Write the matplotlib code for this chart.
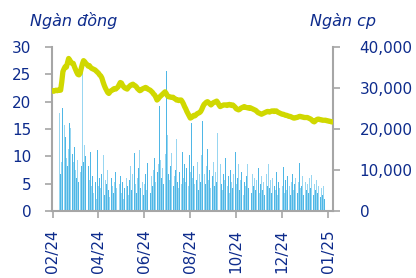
import matplotlib
matplotlib.use("Agg")
import matplotlib.pyplot as plt
import numpy as np

price = [
    22.0, 21.9, 22.0, 22.1, 22.0, 22.1, 22.2, 22.1, 23.6, 25.5,
    26.0, 26.4, 26.3, 27.1, 27.9, 27.6, 27.2, 27.0, 27.0, 26.4,
    25.9, 25.4, 25.0, 24.9, 25.2, 26.1, 26.9, 27.5, 27.3, 27.0,
    26.8, 26.5, 26.6, 26.3, 26.1, 26.0, 25.9, 25.8, 25.6, 25.4,
    25.2, 24.9, 24.7, 24.3, 23.6, 23.0, 22.5, 22.1, 21.7, 21.5,
    21.8, 22.0, 22.1, 22.3, 22.4, 22.3, 22.5, 22.7, 23.1, 23.5,
    23.4, 23.0, 22.7, 22.5, 22.4, 22.3, 22.6, 22.8, 23.0, 23.1,
    23.2, 23.0, 22.9, 22.7, 22.4, 22.2, 22.0, 22.1, 22.3, 22.4,
    22.5, 22.6, 22.5, 22.3, 22.2, 22.1, 21.9, 21.7, 21.4, 21.2,
    20.8, 20.3, 20.5, 20.8, 21.0, 21.2, 21.4, 21.6, 21.8, 21.5,
    21.1, 20.9, 20.9, 20.8, 20.8, 20.8, 20.6, 20.5, 20.3, 20.3,
    20.2, 20.3, 20.3, 20.0, 19.6, 19.1, 18.7, 18.2, 17.8, 17.4,
    17.0, 17.1, 17.3, 17.5, 17.4, 17.6, 17.8, 17.9, 18.0, 18.2,
    18.6, 19.1, 19.5, 19.7, 19.9, 20.0, 19.8, 19.6, 19.4, 19.6,
    19.8, 19.9, 20.0, 20.1, 19.8, 19.4, 19.1, 19.2, 19.3, 19.4,
    19.4, 19.4, 19.3, 19.4, 19.5, 19.4, 19.3, 19.4, 19.2, 19.0,
    18.7, 18.6, 18.5, 18.6, 18.8, 18.9, 19.0, 19.1, 19.0, 18.9,
    18.9, 18.8, 18.9, 18.8, 18.7, 18.6, 18.5, 18.4, 18.2, 18.0,
    17.9, 17.8, 17.7, 17.8, 17.9, 18.0, 18.1, 18.2, 18.2, 18.1,
    18.2, 18.3, 18.3, 18.2, 18.3, 18.3, 18.1, 18.0, 17.9, 17.8,
    17.7, 17.7, 17.6, 17.5, 17.5, 17.4, 17.3, 17.3, 17.2, 17.1,
    17.0, 17.0, 17.1, 17.1, 17.2, 17.3, 17.3, 17.2, 17.2, 17.1,
    17.1, 17.1, 17.1, 17.0, 16.9, 16.8, 16.6, 16.4, 16.3, 16.5,
    16.7, 16.8, 16.8, 16.7, 16.7, 16.6, 16.6, 16.6, 16.6, 16.5,
    16.5, 16.4, 16.4, 16.3, 16.3,
]

volume = [
    7100, 0, 0, 0, 0, 0, 24000, 9000, 12000, 25000,
    21000, 18100, 13000, 11000, 15000, 21500, 20200, 14000, 12000, 15700,
    10000, 8000, 12500, 7000, 9500, 11000, 34000, 12000, 16100, 13500,
    9000, 11000, 7500, 14500, 6000, 8500, 4500, 7000, 3000, 14900,
    6000, 8000, 5500, 9000, 13700, 4000, 7500, 6500, 10000, 5000,
    3500, 8000, 6000, 4500, 7000, 9500, 5500, 13100, 6500, 8500,
    4500, 7000, 3000, 5500, 8000, 6000, 4000, 7500, 11000, 5000,
    9000, 14200, 6500, 4500, 8000, 10500, 14900, 5500, 7000, 4000,
    6500, 9000, 5000, 11800, 7500, 4500, 8500, 6000, 10000, 12900,
    7000, 9500, 11500, 25600, 12500, 8000, 10500, 6500, 14000, 34100,
    18500, 9000, 7500, 11000, 14100, 6000, 8500, 10000, 17600, 7000,
    5500, 9500, 6500, 14500, 8000, 11500, 7000, 10500, 6000, 13700,
    9500, 21500, 8000, 11000, 6500, 7500, 12000, 5000, 9000, 7000,
    13700, 22000, 9000, 6500, 11000, 15100, 7500, 10000, 5500, 8500,
    12000, 6000, 9500, 7000, 19100, 8000, 11500, 6500, 5000, 9000,
    7500, 12900, 6000, 8500, 4500, 10000, 7000, 5500, 9000, 14300,
    6500, 8000, 11500, 5000, 7500, 9500, 4000, 7000, 6000, 8500,
    11500, 5500, 7000, 4500, 9000, 6000, 8000, 5000, 7500, 10600,
    4500, 6500, 8500, 5000, 7000, 4000, 9000, 6000, 11400, 5500,
    7500, 4500, 8000, 6000, 5000, 9500, 4000, 7000, 5500, 8000,
    6000, 10700, 4500, 7500, 5000, 8500, 6000, 4000, 7000, 9000,
    5000, 6500, 8000, 4500, 7000, 11600, 5500, 6000, 8500, 4000,
    7000, 5000, 6500, 4500, 8000, 5500, 8800, 4000, 6500, 5000,
    7500, 4500, 6000, 3500, 5500, 4000, 6200, 3000,
]

tick_labels = ["02/24", "04/24", "06/24", "08/24", "10/24", "12/24", "01/25"]
tick_step = 40

TXT = "#0d2b8c"
GRID = "#a6a6a6"
LINE = "#d0d800"
BAR_COLORS = ["#98d6f1", "#4fb7e6"]

fig = plt.figure(figsize=(4.16, 2.78), dpi=100)
ax = fig.add_axes([0.125, 0.241, 0.676, 0.590])
ax2 = ax.twinx()

xv = np.arange(len(volume))
cols = [BAR_COLORS[i % 2] for i in range(len(volume))]
ax2.bar(xv, volume, width=0.85, color=cols, linewidth=0, zorder=1)

ax.set_zorder(ax2.get_zorder() + 1)
ax.patch.set_visible(False)
ax.plot(np.arange(len(price)), price, color=LINE, lw=3.8, solid_capstyle="round",
        solid_joinstyle="round", zorder=3)

n = len(price)
ax.set_xlim(-0.5, n - 0.5)
ax.set_ylim(0, 30)
ax2.set_ylim(0, 40000)
ax.set_yticks([0, 5, 10, 15, 20, 25, 30])
ax2.set_yticks([0, 10000, 20000, 30000, 40000])
ax2.set_yticklabels([f"{v:,}" for v in [0, 10000, 20000, 30000, 40000]])
ax.set_xticks([i * tick_step for i in range(len(tick_labels))])
ax.set_xticklabels(tick_labels, rotation=90)

for a in (ax, ax2):
    for s in a.spines.values():
        s.set_visible(False)
    a.tick_params(colors=GRID, labelcolor=TXT, labelsize=11, width=1.2, length=5)
ax.spines["left"].set_visible(True)
ax.spines["bottom"].set_visible(True)
ax2.spines["right"].set_visible(True)
for s in (ax.spines["left"], ax.spines["bottom"], ax2.spines["right"]):
    s.set_color(GRID)
    s.set_linewidth(1.5)
ax.tick_params(axis="y", pad=10)
ax2.tick_params(axis="y", pad=14)
ax.tick_params(axis="x", pad=8)

fig.text(0.072, 0.925, "Ngàn đồng", color=TXT, fontsize=11.5, style="italic",
         ha="left", va="center")
fig.text(0.745, 0.925, "Ngàn cp", color=TXT, fontsize=11.5, style="italic",
         ha="left", va="center")

fig.savefig("out.png", dpi=100)
